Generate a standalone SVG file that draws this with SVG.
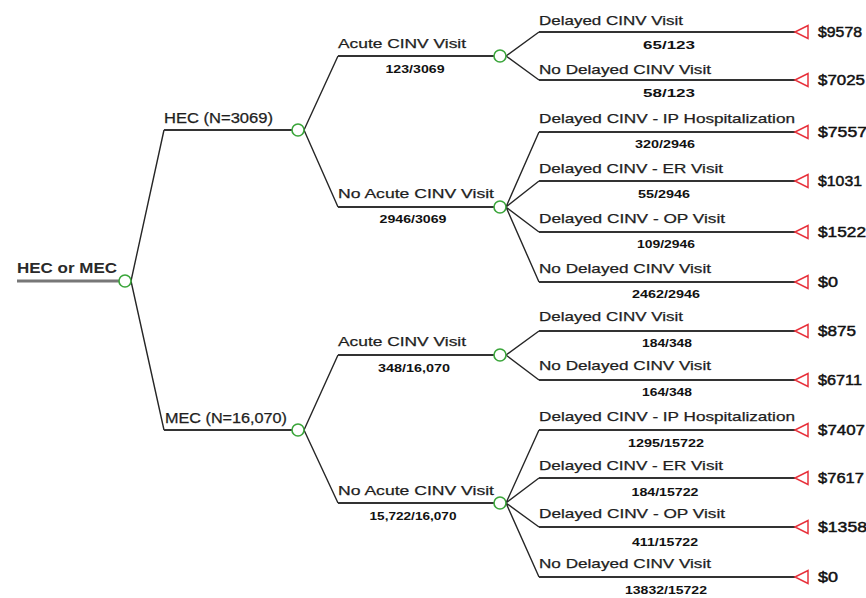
<svg xmlns="http://www.w3.org/2000/svg" width="866" height="598" viewBox="0 0 866 598">
  <style>
    text { font-family: "Liberation Sans", Arial, sans-serif; fill: #1e1e1e; stroke: #1e1e1e; stroke-width: 0.25; }
    .lbl { font-size: 13.5px; }
    .top { font-size: 14px; }
    .root { font-size: 14px; font-weight: bold; fill: #2a2a2a; stroke: none; }
    .frac { font-size: 10.5px; font-weight: bold; text-anchor: middle; fill: #111; stroke: none; }
    .val { font-size: 14px; fill: #111; stroke: #111; stroke-width: 0.45; }
    .chance { fill: #fff; stroke: #3aa53a; stroke-width: 1.6; }
    .term { fill: #fff; stroke: #e8323c; stroke-width: 1.5; stroke-linejoin: miter; }
    .diag { fill: none; stroke: #262626; stroke-width: 1.4; }
    .branch { fill: none; stroke: #333; stroke-width: 2.2; }
    .stem { fill: none; stroke: #777; stroke-width: 3; }
  </style>

  <!-- connectors: sloped joins plus the horizontal branch bars -->
  <g id="connectors">
    <!-- root bar -->
    <line class="stem" x1="17" y1="281" x2="119" y2="281"/>
    <!-- level 1 -->
    <path class="diag" d="M131,281 L164,130 M131,281 L164,430"/>
    <line class="branch" x1="164" y1="130" x2="292" y2="130"/>
    <line class="branch" x1="164" y1="430" x2="292" y2="430"/>
    <!-- level 2 -->
    <path class="diag" d="M304,130 L338,56 M304,130 L338,207 M304,430 L338,355 M304,430 L338,503"/>
    <line class="branch" x1="338" y1="56" x2="494" y2="56"/>
    <line class="branch" x1="338" y1="207" x2="494" y2="207"/>
    <line class="branch" x1="338" y1="355" x2="494" y2="355"/>
    <line class="branch" x1="338" y1="503" x2="494" y2="503"/>
    <!-- level 3 joins -->
    <path class="diag" d="M506,56 L539,32 M506,56 L539,80"/>
    <path class="diag" d="M506,207 L539,132 M506,207 L539,181 M506,207 L539,232 M506,207 L539,282"/>
    <path class="diag" d="M506,355 L539,331 M506,355 L539,380"/>
    <path class="diag" d="M506,503 L539,430 M506,503 L539,478 M506,503 L539,527 M506,503 L539,577"/>
    <!-- level 3 bars -->
    <line class="branch" x1="539" y1="32" x2="795" y2="32"/>
    <line class="branch" x1="539" y1="80" x2="795" y2="80"/>
    <line class="branch" x1="539" y1="132" x2="795" y2="132"/>
    <line class="branch" x1="539" y1="181" x2="795" y2="181"/>
    <line class="branch" x1="539" y1="232" x2="795" y2="232"/>
    <line class="branch" x1="539" y1="282" x2="795" y2="282"/>
    <line class="branch" x1="539" y1="331" x2="795" y2="331"/>
    <line class="branch" x1="539" y1="380" x2="795" y2="380"/>
    <line class="branch" x1="539" y1="430" x2="795" y2="430"/>
    <line class="branch" x1="539" y1="478" x2="795" y2="478"/>
    <line class="branch" x1="539" y1="527" x2="795" y2="527"/>
    <line class="branch" x1="539" y1="577" x2="795" y2="577"/>
  </g>

  <!-- root chance node -->
  <g id="root">
    <text class="root" x="17" y="273" textLength="100" lengthAdjust="spacingAndGlyphs">HEC or MEC</text>
    <circle class="chance" cx="125" cy="281" r="6"/>
  </g>

  <!-- first split -->
  <g id="hec">
    <text class="top" x="164" y="123" textLength="109" lengthAdjust="spacingAndGlyphs">HEC (N=3069)</text>
    <circle class="chance" cx="298" cy="130" r="6"/>
  </g>
  <g id="mec">
    <text class="top" x="165" y="423" textLength="122" lengthAdjust="spacingAndGlyphs">MEC (N=16,070)</text>
    <circle class="chance" cx="298" cy="430" r="6"/>
  </g>

  <!-- second split -->
  <g id="hec-acute">
    <text class="lbl" x="338" y="48" textLength="128" lengthAdjust="spacingAndGlyphs">Acute CINV Visit</text>
    <text class="frac" x="415" y="73" textLength="59" lengthAdjust="spacingAndGlyphs">123/3069</text>
    <circle class="chance" cx="500" cy="56" r="6"/>
  </g>
  <g id="hec-no-acute">
    <text class="lbl" x="338" y="198" textLength="156" lengthAdjust="spacingAndGlyphs">No Acute CINV Visit</text>
    <text class="frac" x="413" y="223" textLength="67" lengthAdjust="spacingAndGlyphs">2946/3069</text>
    <circle class="chance" cx="500" cy="207" r="6"/>
  </g>
  <g id="mec-acute">
    <text class="lbl" x="338" y="346" textLength="128" lengthAdjust="spacingAndGlyphs">Acute CINV Visit</text>
    <text class="frac" x="414" y="372" textLength="72" lengthAdjust="spacingAndGlyphs">348/16,070</text>
    <circle class="chance" cx="500" cy="355" r="6"/>
  </g>
  <g id="mec-no-acute">
    <text class="lbl" x="338" y="495" textLength="156" lengthAdjust="spacingAndGlyphs">No Acute CINV Visit</text>
    <text class="frac" x="413" y="520" textLength="87" lengthAdjust="spacingAndGlyphs">15,722/16,070</text>
    <circle class="chance" cx="500" cy="503" r="6"/>
  </g>

  <!-- terminal outcomes, HEC arm -->
  <g id="hec-acute-delayed">
    <text class="lbl" x="539" y="25" textLength="144" lengthAdjust="spacingAndGlyphs">Delayed CINV Visit</text>
    <text class="frac" x="669" y="49" textLength="52" lengthAdjust="spacingAndGlyphs">65/123</text>
    <polygon class="term" points="795,32 808,25.5 808,38.5"/>
    <text class="val" x="818" y="37" textLength="44" lengthAdjust="spacingAndGlyphs">$9578</text>
  </g>
  <g id="hec-acute-no-delayed">
    <text class="lbl" x="539" y="74" textLength="172" lengthAdjust="spacingAndGlyphs">No Delayed CINV Visit</text>
    <text class="frac" x="669" y="97" textLength="52" lengthAdjust="spacingAndGlyphs">58/123</text>
    <polygon class="term" points="795,80 808,73.5 808,86.5"/>
    <text class="val" x="818" y="85" textLength="47" lengthAdjust="spacingAndGlyphs">$7025</text>
  </g>
  <g id="hec-noacute-ip">
    <text class="lbl" x="539" y="123" textLength="256" lengthAdjust="spacingAndGlyphs">Delayed CINV - IP Hospitalization</text>
    <text class="frac" x="665" y="148" textLength="60" lengthAdjust="spacingAndGlyphs">320/2946</text>
    <polygon class="term" points="795,132 808,125.5 808,138.5"/>
    <text class="val" x="818" y="137" textLength="49" lengthAdjust="spacingAndGlyphs">$7557</text>
  </g>
  <g id="hec-noacute-er">
    <text class="lbl" x="539" y="173" textLength="184" lengthAdjust="spacingAndGlyphs">Delayed CINV - ER Visit</text>
    <text class="frac" x="664" y="198" textLength="52" lengthAdjust="spacingAndGlyphs">55/2946</text>
    <polygon class="term" points="795,181 808,174.5 808,187.5"/>
    <text class="val" x="818" y="186" textLength="44" lengthAdjust="spacingAndGlyphs">$1031</text>
  </g>
  <g id="hec-noacute-op">
    <text class="lbl" x="539" y="223" textLength="186" lengthAdjust="spacingAndGlyphs">Delayed CINV - OP Visit</text>
    <text class="frac" x="666" y="248" textLength="58" lengthAdjust="spacingAndGlyphs">109/2946</text>
    <polygon class="term" points="795,232 808,225.5 808,238.5"/>
    <text class="val" x="818" y="237" textLength="48" lengthAdjust="spacingAndGlyphs">$1522</text>
  </g>
  <g id="hec-noacute-none">
    <text class="lbl" x="539" y="273" textLength="172" lengthAdjust="spacingAndGlyphs">No Delayed CINV Visit</text>
    <text class="frac" x="666" y="298" textLength="68" lengthAdjust="spacingAndGlyphs">2462/2946</text>
    <polygon class="term" points="795,282 808,275.5 808,288.5"/>
    <text class="val" x="818" y="287" textLength="20" lengthAdjust="spacingAndGlyphs">$0</text>
  </g>

  <!-- terminal outcomes, MEC arm -->
  <g id="mec-acute-delayed">
    <text class="lbl" x="539" y="321" textLength="144" lengthAdjust="spacingAndGlyphs">Delayed CINV Visit</text>
    <text class="frac" x="667" y="347" textLength="50" lengthAdjust="spacingAndGlyphs">184/348</text>
    <polygon class="term" points="795,331 808,324.5 808,337.5"/>
    <text class="val" x="818" y="336" textLength="38" lengthAdjust="spacingAndGlyphs">$875</text>
  </g>
  <g id="mec-acute-no-delayed">
    <text class="lbl" x="539" y="370" textLength="172" lengthAdjust="spacingAndGlyphs">No Delayed CINV Visit</text>
    <text class="frac" x="667" y="396" textLength="50" lengthAdjust="spacingAndGlyphs">164/348</text>
    <polygon class="term" points="795,380 808,373.5 808,386.5"/>
    <text class="val" x="818" y="385" textLength="44" lengthAdjust="spacingAndGlyphs">$6711</text>
  </g>
  <g id="mec-noacute-ip">
    <text class="lbl" x="539" y="421" textLength="256" lengthAdjust="spacingAndGlyphs">Delayed CINV - IP Hospitalization</text>
    <text class="frac" x="666" y="447" textLength="76" lengthAdjust="spacingAndGlyphs">1295/15722</text>
    <polygon class="term" points="795,430 808,423.5 808,436.5"/>
    <text class="val" x="818" y="435" textLength="47" lengthAdjust="spacingAndGlyphs">$7407</text>
  </g>
  <g id="mec-noacute-er">
    <text class="lbl" x="539" y="470" textLength="184" lengthAdjust="spacingAndGlyphs">Delayed CINV - ER Visit</text>
    <text class="frac" x="665" y="496" textLength="67" lengthAdjust="spacingAndGlyphs">184/15722</text>
    <polygon class="term" points="795,478 808,471.5 808,484.5"/>
    <text class="val" x="818" y="483" textLength="46" lengthAdjust="spacingAndGlyphs">$7617</text>
  </g>
  <g id="mec-noacute-op">
    <text class="lbl" x="539" y="518" textLength="186" lengthAdjust="spacingAndGlyphs">Delayed CINV - OP Visit</text>
    <text class="frac" x="665" y="546" textLength="66" lengthAdjust="spacingAndGlyphs">411/15722</text>
    <polygon class="term" points="795,527 808,520.5 808,533.5"/>
    <text class="val" x="818" y="532" textLength="49" lengthAdjust="spacingAndGlyphs">$1358</text>
  </g>
  <g id="mec-noacute-none">
    <text class="lbl" x="539" y="568" textLength="172" lengthAdjust="spacingAndGlyphs">No Delayed CINV Visit</text>
    <text class="frac" x="666" y="594" textLength="82" lengthAdjust="spacingAndGlyphs">13832/15722</text>
    <polygon class="term" points="795,577 808,570.5 808,583.5"/>
    <text class="val" x="818" y="582" textLength="20" lengthAdjust="spacingAndGlyphs">$0</text>
  </g>
</svg>
